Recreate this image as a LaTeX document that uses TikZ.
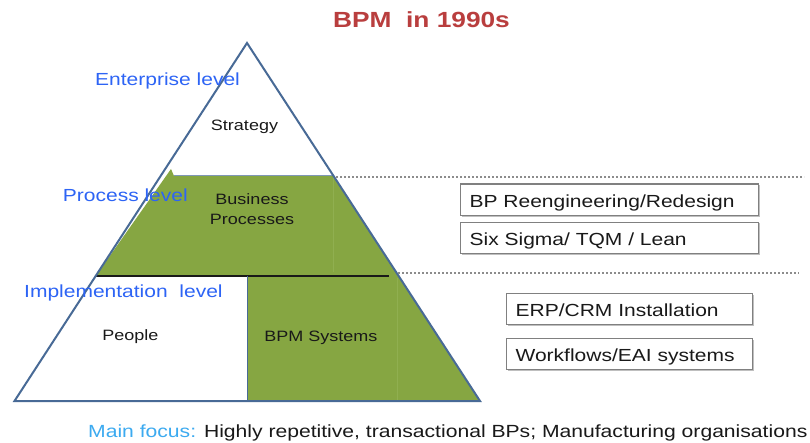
\documentclass[tikz,border=0pt]{standalone}
\usepackage{fontspec}
\setmainfont[FakeStretch=1.2]{Liberation Sans}
\usetikzlibrary{shadows}
\definecolor{tri}{RGB}{72,106,150}
\definecolor{grn}{RGB}{134,166,66}
\definecolor{grnl}{RGB}{144,175,80}
\definecolor{lvlc}{RGB}{45,100,245}
\definecolor{ttl}{RGB}{185,62,62}
\definecolor{focus}{RGB}{60,170,240}
\definecolor{txt}{RGB}{25,25,25}
\definecolor{boxc}{RGB}{128,128,128}
\begin{document}
\begin{tikzpicture}[x=1pt,y=-1pt,
  lvl/.style={text=lvlc, font=\fontsize{17.5}{21}\selectfont, inner sep=0pt, anchor=base west},
  inlab/.style={text=txt, font=\fontsize{15}{18}\selectfont, inner sep=0pt, anchor=base},
  tbox/.style={draw=boxc, line width=1.2pt, fill=white, text=txt,
    font=\fontsize{17.5}{21}\selectfont, inner xsep=9pt, inner ysep=0pt,
    text height=15pt, text depth=0pt, align=left, anchor=north west,
    minimum height=31.5pt,
    drop shadow={shadow xshift=1.2pt, shadow yshift=-1.2pt, opacity=0.25, fill=black}},
  dotline/.style={draw=black!45, line width=1.1pt, dash pattern=on 2pt off 2pt}]
\useasboundingbox (0,0) rectangle (810,443);
\fill[white] (0,0) rectangle (810,443);

% pyramid corners
\coordinate (A) at (247,43);
\coordinate (BL) at (14.5,401);
\coordinate (BR) at (480,401);

% green areas
\fill[grn] (95.7,276) -- (171,169) -- (174,176) -- (333.6,176) -- (398.7,276) -- cycle;
\fill[grn] (247,276) -- (398.7,276) -- (480,401) -- (247,401) -- cycle;
\draw[grnl, line width=0.6pt] (333.6,177) -- (333.6,272);
\draw[grnl, line width=0.6pt] (397,278) -- (397,400);
\draw[tri!70, line width=1pt] (174,176) -- (333.6,176);

% inner lines
\coordinate (h1) at (95.7,276);
\coordinate (h2) at (389,276);
\draw[txt, line width=1.3pt] (h1) -- (h2);
\coordinate (v1) at (247,276);
\coordinate (v2) at (247,401);
\draw[tri, line width=1pt] (v1) -- (v2);

% triangle outline
\draw[tri, line width=2pt, line join=miter] (A) -- (BL) -- (BR) -- cycle;

% dashed separators
\coordinate (d1a) at (336,177);
\coordinate (d1b) at (804,177);
\coordinate (d2a) at (398,273);
\coordinate (d2b) at (799,273);
\draw[dotline] (d1a) -- (d1b);
\draw[dotline] (d2a) -- (d2b);

% title
\node[text=ttl, font=\fontsize{21.9}{26}\selectfont\bfseries, inner sep=0pt, anchor=base] (title) at (421.5,28) {BPM~~in 1990s};

% level labels
\node[lvl] (ent) at (95,86) {Enterprise level};
\node[lvl] (proc) at (62.7,201.5) {Process level};
\node[lvl] (impl) at (24,297.3) {Implementation~~level};

% inside labels
\node[inlab] (strat) at (244.5,130.7) {Strategy};
\node[inlab] (bus) at (252,205) {Business};
\node[inlab] (procs) at (252,225) {Processes};
\node[inlab] (people) at (130.3,340.5) {People};
\node[inlab] (bpms) at (320.8,341) {BPM Systems};

% boxes
\node[tbox, text width=280pt] (b1) at (460,183.5) {BP Reengineering/Redesign};
\node[tbox, text width=280pt] (b2) at (460,221.7) {Six Sigma/ TQM / Lean};
\node[tbox, text width=228pt] (b3) at (506,292.7) {ERP/CRM Installation};
\node[tbox, text width=228pt] (b4) at (506,337.7) {Workflows/EAI systems};

% bottom line
\node[font=\fontsize{17.6}{21}\selectfont, text=txt, inner sep=0pt, anchor=base west] (focus) at (88,437.3)
  {\textcolor{focus}{Main focus:} Highly repetitive, transactional BPs; Manufacturing organisations};
\end{tikzpicture}
\end{document}
